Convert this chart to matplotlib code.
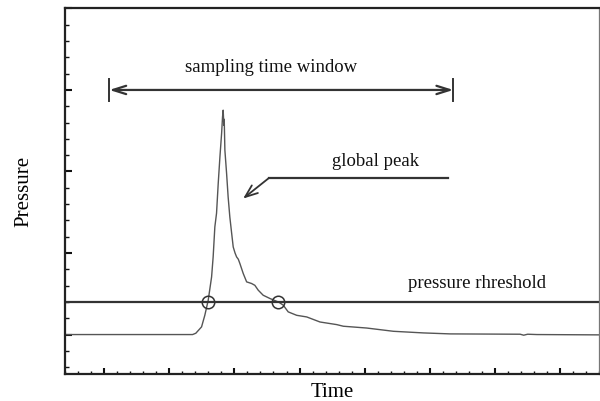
import numpy as np
import matplotlib
matplotlib.use("Agg")
import matplotlib.pyplot as plt
from matplotlib.patches import FancyArrowPatch
from matplotlib.ticker import MultipleLocator, NullFormatter

# Pressure trace (arbitrary units)
time = [-3.0, 6.79, 7.04, 7.48, 7.73, 7.99, 8.25, 8.37, 8.50, 8.63, 8.76, 8.89,
        9.02, 9.09, 9.14, 9.19, 9.22, 9.27, 9.40, 9.52, 9.65, 9.79, 9.91, 10.05,
        10.17, 10.30, 10.42, 10.68, 10.94, 11.32, 11.57, 11.83, 12.21, 12.73,
        13.42, 13.75, 14.13, 14.78, 15.55, 16.57, 17.85, 18.36, 20.15, 22.20,
        24.50, 26.55, 31.93, 32.2, 32.5, 33.21, 38.02]
pressure = [0.0, 0.0, 0.08, 0.47, 1.18, 2.10, 3.53, 4.76, 6.60, 7.44, 9.28, 10.90,
            12.35, 13.35, 13.76, 12.84, 13.2, 11.31, 9.90, 8.44, 7.21, 6.21, 5.37, 5.0,
            4.76, 4.62, 4.36, 3.74, 3.23, 3.13, 3.02, 2.72, 2.41, 2.21,
            1.98, 1.80, 1.39, 1.18, 1.08, 0.77, 0.61, 0.51, 0.40, 0.20,
            0.10, 0.04, 0.02, -0.04, 0.02, 0.0, -0.02]

threshold = 2.0
window_start, window_end = 0.4, 26.8
window_level = 15.0
peak_arrow_tip = (10.67, 8.34)
peak_arrow_tail = (12.65, 9.6)
peak_leader_end = 26.4

xlim = (-3.0, 38.0)
ylim = (-2.42, 20.0)

plt.rcParams['font.family'] = ['Liberation Serif', 'DejaVu Serif']

fig = plt.figure(figsize=(6.0, 4.01), dpi=100)
ax = fig.add_axes([0.1083, 0.0673, 0.8905, 0.9117])

ink = '#333333'

ax.plot(time, pressure, color='#555555', lw=1.0)
ax.axhline(threshold, color=ink, lw=1.6)

# crossings of the trace with the threshold
t = np.asarray(time)
p = np.asarray(pressure)
cross = []
for i in range(len(t) - 1):
    a, b = p[i] - threshold, p[i + 1] - threshold
    if a * b < 0 or (b == 0 and a != 0):
        f = -a / (b - a)
        cross.append(t[i] + f * (t[i + 1] - t[i]))
ax.plot(cross, [threshold] * len(cross), 'o', ms=9, mfc='none', mec=ink, mew=1.1)

# sampling window double arrow with end bars
ax.add_patch(FancyArrowPatch((window_start, window_level), (window_end, window_level),
                             arrowstyle='<->,head_length=0.95,head_width=0.3',
                             mutation_scale=10, color=ink, lw=1.6,
                             shrinkA=0, shrinkB=0))
for xe in (window_start, window_end):
    ax.plot([xe, xe], [window_level - 0.7, window_level + 0.7], color=ink, lw=1.4)
ax.text((window_start + window_end) / 2 - 0.8, window_level + 0.85, 'sampling time window',
        ha='center', va='bottom', fontsize=13.5, color='#111111')

# global peak callout
ax.plot([peak_arrow_tail[0], peak_leader_end], [peak_arrow_tail[1]] * 2, color=ink, lw=1.6)
ax.add_patch(FancyArrowPatch(peak_arrow_tail, peak_arrow_tip,
                             arrowstyle='->,head_length=0.9,head_width=0.35',
                             mutation_scale=10, color=ink, lw=1.3,
                             shrinkA=0, shrinkB=0))
ax.text(20.83, 10.6, 'global peak', ha='center', va='center',
        fontsize=13.5, color='#111111')

ax.text(28.6, 3.15, 'pressure rhreshold', ha='center', va='center',
        fontsize=13.5, color='#111111')

ax.set_xlim(*xlim)
ax.set_ylim(*ylim)

ax.xaxis.set_major_locator(MultipleLocator(5))
ax.xaxis.set_minor_locator(MultipleLocator(1))
ax.yaxis.set_major_locator(MultipleLocator(5))
ax.yaxis.set_minor_locator(MultipleLocator(1))
ax.xaxis.set_major_formatter(NullFormatter())
ax.yaxis.set_major_formatter(NullFormatter())

ax.tick_params(axis='x', which='major', direction='in', length=4.3, width=1.5, color='#111111')
ax.tick_params(axis='x', which='minor', direction='in', length=2.0, width=1.0, color='#111111')
ax.tick_params(axis='y', which='major', direction='in', length=5.0, width=1.5, color='#111111')
ax.tick_params(axis='y', which='minor', direction='in', length=3.2, width=1.0, color='#111111')

for side in ('left', 'bottom', 'top'):
    ax.spines[side].set_linewidth(1.6)
    ax.spines[side].set_color('#222222')
ax.spines['right'].set_linewidth(0.9)
ax.spines['right'].set_color('#777777')

ax.set_xlabel('Time', fontsize=15, labelpad=3)
ax.set_ylabel('Pressure', fontsize=15, labelpad=19)

fig.savefig('out.png', dpi=100)
